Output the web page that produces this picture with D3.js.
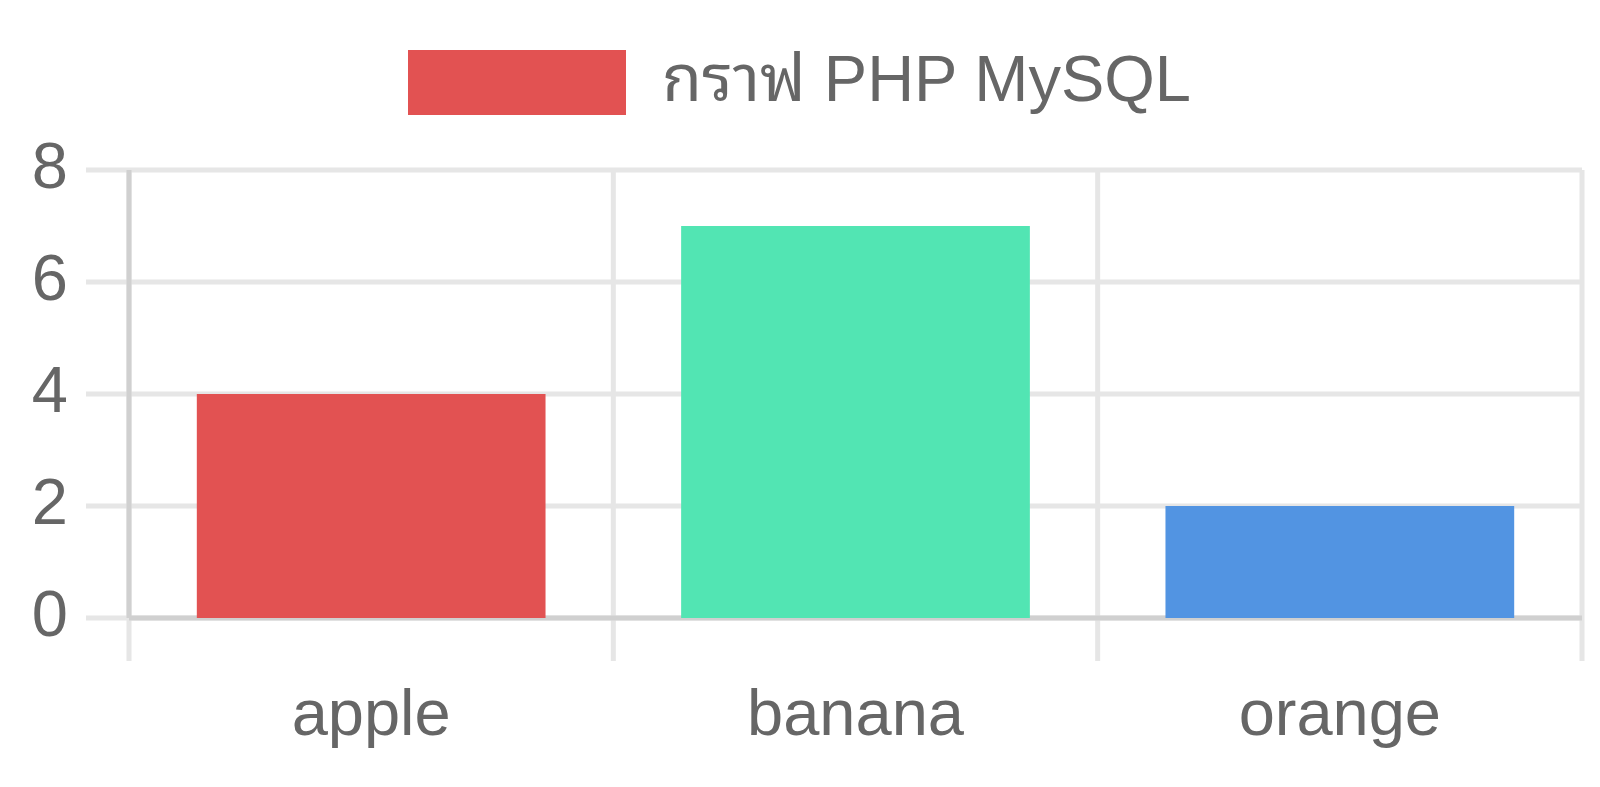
<!DOCTYPE html>
<html>
<head>
<meta charset="utf-8">
<script src="https://cdn.jsdelivr.net/npm/d3@7"></script>
<style>
  body { margin: 0; background: #fff; }
  text { font-family: "Liberation Sans", Arial, "DejaVu Sans", sans-serif; fill: #666; }
  .thai { font-family: "Noto Sans Thai Looped", "Tahoma", "Noto Sans Thai", "Noto Sans Thai UI", "DejaVu Sans", sans-serif; }
</style>
</head>
<body>
<div id="chart"></div>
<script>
// data
const fruits = ["apple", "banana", "orange"];
const amounts = [4, 7, 2];
const barColors = ["#e25252", "#52e5b3", "#5294e2"];
const yTicks = [0, 2, 4, 6, 8];
const seriesThai = "กราฟ";
const seriesLatin = " PHP MySQL";

const W = 1600, H = 787;
const margin = {top: 170, right: 18, bottom: 169, left: 129};
const tickLen = 43;

const svg = d3.select("#chart")
  .append("svg")
    .attr("width", W)
    .attr("height", H);

const x = d3.scaleBand()
  .domain(fruits)
  .range([margin.left, W - margin.right])
  .padding(0);

const y = d3.scaleLinear()
  .domain([0, 8])
  .range([H - margin.bottom, margin.top]);

const grid = svg.append("g");

// horizontal grid lines (with tick marks sticking out left)
grid.selectAll("line.h")
  .data(yTicks)
  .join("line")
    .attr("class", "h")
    .attr("x1", margin.left - tickLen)
    .attr("x2", W - margin.right)
    .attr("y1", d => y(d))
    .attr("y2", d => y(d))
    .attr("stroke", "#e6e6e6")
    .attr("stroke-width", 5);

// vertical grid lines at category edges
const edges = fruits.map(d => x(d)).concat([x(fruits[fruits.length - 1]) + x.step()]);
grid.selectAll("line.v")
  .data(edges)
  .join("line")
    .attr("class", "v")
    .attr("x1", d => d)
    .attr("x2", d => d)
    .attr("y1", margin.top)
    .attr("y2", y(0) + tickLen)
    .attr("stroke", "#e6e6e6")
    .attr("stroke-width", 5);

// darker axis lines
grid.append("line")
  .attr("x1", margin.left).attr("x2", W - margin.right)
  .attr("y1", y(0)).attr("y2", y(0))
  .attr("stroke", "#d0d0d0").attr("stroke-width", 5);
grid.append("line")
  .attr("x1", margin.left).attr("x2", margin.left)
  .attr("y1", margin.top).attr("y2", y(0))
  .attr("stroke", "#d0d0d0").attr("stroke-width", 5);

// bars
svg.append("g")
  .selectAll("rect")
  .data(fruits)
  .join("rect")
    .attr("x", d => x(d) + x.step() * 0.14)
    .attr("width", x.step() * 0.72)
    .attr("y", (d, i) => y(amounts[i]))
    .attr("height", (d, i) => y(0) - y(amounts[i]))
    .attr("fill", (d, i) => barColors[i]);

// y tick labels
svg.append("g")
  .selectAll("text")
  .data(yTicks)
  .join("text")
    .attr("x", 68)
    .attr("y", d => y(d) + 18)
    .attr("text-anchor", "end")
    .style("font-size", "65px")
    .text(d => d);

// x tick labels
svg.append("g")
  .selectAll("text")
  .data(fruits)
  .join("text")
    .attr("x", d => x(d) + x.step() / 2)
    .attr("y", 735)
    .attr("text-anchor", "middle")
    .style("font-size", "65px")
    .text(d => d);

// legend
const legend = svg.append("g");
legend.append("rect")
  .attr("x", 408).attr("y", 50)
  .attr("width", 218).attr("height", 65)
  .attr("fill", barColors[0]);
const label = legend.append("text")
  .attr("x", 662)
  .attr("y", 101)
  .style("font-size", "65px");
label.append("tspan").attr("class", "thai").text(seriesThai);
label.append("tspan").text(seriesLatin);
</script>
</body>
</html>
